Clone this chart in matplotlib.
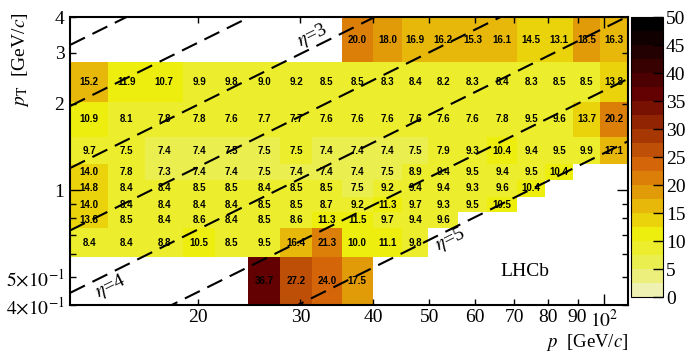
import numpy as np
import matplotlib.pyplot as plt
from matplotlib.colors import LinearSegmentedColormap, ListedColormap, BoundaryNorm

plt.rcParams['font.family'] = ['Liberation Serif', 'DejaVu Serif']
plt.rcParams['mathtext.fontset'] = 'stix'

# bin edges
p_edges = [12.03, 14.0, 16.2, 18.84, 21.38, 24.37, 27.67, 31.44, 35.3, 39.97,
           44.93, 49.8, 56.06, 62.89, 70.81, 79.1, 88.4, 98.4, 109.9]
pt_edges = [0.4, 0.587, 0.74, 0.838, 0.952, 1.086, 1.235, 1.532, 2.03, 2.79, 4.0]

nan = np.nan
# one list per pT row, from lowest to highest pT
row0 = [nan, nan, nan, nan, nan, 36.7, 27.2, 24.0, 17.5, nan, nan, nan, nan, nan, nan, nan, nan, nan]
row1 = [8.4, 8.4, 8.8, 10.5, 8.5, 9.5, 16.4, 21.3, 10.0, 11.1, 9.8, nan, nan, nan, nan, nan, nan, nan]
row2 = [13.8, 8.5, 8.4, 8.6, 8.4, 8.5, 8.6, 11.3, 11.5, 9.7, 9.4, 9.6, nan, nan, nan, nan, nan, nan]
row3 = [14.0, 8.4, 8.4, 8.4, 8.4, 8.5, 8.5, 8.7, 9.2, 11.3, 9.7, 9.3, 9.5, 10.5, nan, nan, nan, nan]
row4 = [14.8, 8.4, 8.4, 8.5, 8.5, 8.4, 8.5, 8.5, 7.48, 9.2, 9.4, 9.4, 9.3, 9.6, 10.4, nan, nan, nan]
row5 = [14.0, 7.8, 7.3, 7.4, 7.4, 7.48, 7.4, 7.4, 7.4, 7.48, 8.9, 9.4, 9.5, 9.4, 9.5, 10.4, nan, nan]
row6 = [9.7, 7.5, 7.4, 7.4, 7.48, 7.48, 7.5, 7.4, 7.4, 7.4, 7.48, 7.9, 9.3, 10.4, 9.4, 9.5, 9.9, 17.1]
row7 = [10.9, 8.1, 7.8, 7.8, 7.6, 7.7, 7.7, 7.6, 7.6, 7.6, 7.6, 7.6, 7.6, 7.8, 9.5, 9.6, 13.7, 20.2]
row8 = [15.2, 11.9, 10.7, 9.9, 9.8, 9.0, 9.2, 8.5, 8.5, 8.3, 8.4, 8.2, 8.3, 8.4, 8.3, 8.5, 8.5, 13.8]
row9 = [nan, nan, nan, nan, nan, nan, nan, nan, 20.0, 18.0, 16.9, 16.2, 15.3, 16.1, 14.5, 13.1, 18.5, 16.3]

eta_values = [2.0, 2.5, 3.0, 3.5, 4.0, 4.5, 5.0]
eta_labels = {3.0: (31.5, 1.105), 4.0: (14.1, 0.895), 5.0: (54.3, 0.92)}

z_levels = np.arange(0, 50.01, 2.5)
cb_ticks = np.arange(0, 51, 5)

# ROOT "inverted dark body radiator" palette, 20 contour levels
red = [242, 234, 237, 230, 212, 156, 99, 45, 0]
green = [243, 238, 238, 168, 101, 45, 0, 0, 0]
blue = [230, 95, 11, 8, 9, 3, 1, 1, 0]
stops = np.linspace(0, 1, 9)
base = LinearSegmentedColormap.from_list(
    'idbr', [(s, (r / 255, g / 255, b / 255)) for s, r, g, b in zip(stops, red, green, blue)])
nlev = len(z_levels) - 1
cmap = ListedColormap([base(min((i + 0.99) / nlev, 1.0)) for i in range(nlev)])
norm = BoundaryNorm(z_levels, nlev)

values = np.array([row0, row1, row2, row3, row4, row5, row6, row7, row8, row9])

fig = plt.figure(figsize=(6.98, 3.53), dpi=100)
ax = fig.add_axes([0.1003, 0.136, 0.7994, 0.8158])
mesh = ax.pcolormesh(p_edges, pt_edges, np.ma.masked_invalid(values), cmap=cmap, norm=norm)
ax.set_xscale('log')
ax.set_yscale('log')
ax.set_xlim(p_edges[0], p_edges[-1])
ax.set_ylim(pt_edges[0], pt_edges[-1])

# numbers in the cells
pc = np.sqrt(np.array(p_edges[:-1]) * np.array(p_edges[1:]))
ptc = np.sqrt(np.array(pt_edges[:-1]) * np.array(pt_edges[1:]))
for j in range(values.shape[0]):
    for i in range(values.shape[1]):
        v = values[j, i]
        if np.isnan(v):
            continue
        ax.text(pc[i], ptc[j], '%.1f' % v, ha='center', va='center',
                fontsize=7, fontweight='bold', family='Liberation Sans', color='black')

# lines of constant pseudorapidity
pp = np.array([p_edges[0], p_edges[-1]])
for eta in eta_values:
    ax.plot(pp, pp / np.cosh(eta), color='black', lw=1.5, dashes=(8, 4), clip_on=True)

fig.canvas.draw()
a = ax.transData.transform([(20, 1), (40, 2)])
angle = np.degrees(np.arctan2(a[1, 1] - a[0, 1], a[1, 0] - a[0, 0]))
for eta, (p_lab, shift) in eta_labels.items():
    ax.text(p_lab, p_lab / np.cosh(eta) * shift, r'$\eta$=%d' % eta, rotation=angle,
            ha='center', va='center', fontsize=14, rotation_mode='anchor')

ax.text(0.815, 0.115, 'LHCb', transform=ax.transAxes, ha='center', va='center', fontsize=14)

# axes ticks in the ROOT manner
ax.set_xticks([100], labels=[r'$10^2$'])
ax.set_xticks([20, 30, 40, 50, 60, 70, 80, 90],
              labels=['20', '30', '40', '50', '60', '70', '80', '90'], minor=True)
ax.set_yticks([1], labels=['1'])
ax.set_yticks([0.4, 0.5, 0.6, 0.7, 0.8, 0.9, 2, 3, 4],
              labels=[r'$4{\times}10^{-1}$', r'$5{\times}10^{-1}$', '', '', '', '', '2', '3', '4'],
              minor=True)
ax.tick_params(which='both', direction='in', top=True, right=True, labelsize=14, width=1)
ax.tick_params(which='major', length=8)
ax.tick_params(which='minor', length=4)
ax.tick_params(axis='x', which='both', pad=3)
ax.tick_params(axis='y', which='both', pad=4)
for s in ax.spines.values():
    s.set_linewidth(1.5)

ax.set_xlabel(r'$p$  [GeV/$c$]', fontsize=13.5, loc='right')
ax.xaxis.set_label_coords(1.0, -0.093)
ax.set_ylabel(r'$p_{\mathrm{T}}$  [GeV/$c$]', fontsize=14, loc='top')
ax.yaxis.set_label_coords(-0.07, 1.015)

cax = fig.add_axes([0.904, 0.1586, 0.046, 0.7932])
cb = fig.colorbar(mesh, cax=cax, ticks=cb_ticks)
cb.ax.tick_params(direction='in', length=7, width=1, labelsize=14, pad=2)
cb.ax.minorticks_off()
cb.outline.set_linewidth(0.8)

fig.savefig('out.png', dpi=100)
